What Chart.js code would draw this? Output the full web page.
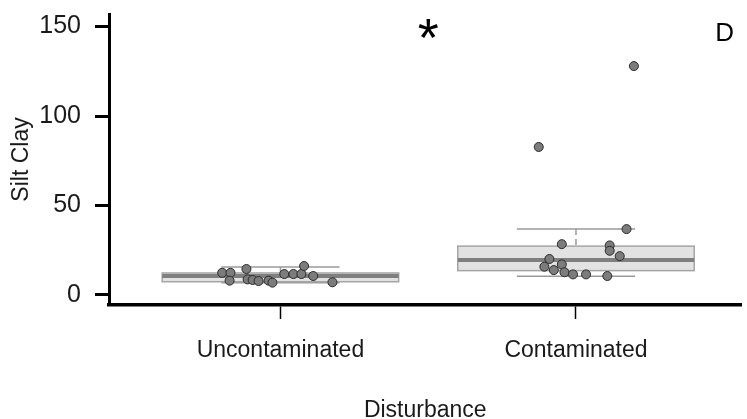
<!DOCTYPE html>
<html>
<head>
<meta charset="utf-8">
<script src="https://cdn.jsdelivr.net/npm/chart.js@4.4.1/dist/chart.umd.min.js"></script>
<style>
  html, body { margin: 0; padding: 0; background: #fff; }
  #wrap { width: 747px; height: 419px; }
</style>
</head>
<body>
<div id="wrap"><canvas id="c"></canvas></div>
<script>
// Silt/clay content by disturbance class
const categories = ['Uncontaminated', 'Contaminated'];

const siltClayUncontaminated = [12.4, 12.4, 8.0, 14.5, 8.7, 8.4, 7.8, 8.0, 6.9, 11.7, 11.7, 11.7, 16.2, 10.6, 7.1];
const jitterUncontaminated   = [-0.197, -0.169, -0.172, -0.115, -0.111, -0.094, -0.074, -0.040, -0.027, 0.013, 0.044, 0.071, 0.080, 0.111, 0.176];

const siltClayContaminated = [36.8, 28.4, 27.7, 24.7, 21.7, 20.1, 15.8, 13.9, 17.1, 12.7, 11.5, 11.5, 10.6, 127.9, 82.7];
const jitterContaminated   = [0.171, -0.048, 0.114, 0.114, 0.148, -0.090, -0.107, -0.075, -0.048, -0.039, -0.010, 0.034, 0.106, 0.196, -0.126];

// five-number summaries: lower whisker, Q1, median, Q3, upper whisker
const boxUncontaminated = [6.9, 7.4, 10.6, 12.3, 15.6];
const boxContaminated   = [10.5, 13.6, 19.5, 27.3, 36.8];

const yTicks = [0, 50, 100, 150];
const significanceMark = '*';
const panelLetter = 'D';

const FONT = '"Liberation Sans", Arial, sans-serif';

function toPoints(values, jitter, pos) {
  return values.map((v, i) => ({ x: pos + jitter[i], y: v }));
}

const boxes = [boxUncontaminated, boxContaminated];

const boxPlugin = {
  id: 'boxes',
  beforeDatasetsDraw(chart) {
    const { ctx, scales: { x, y } } = chart;
    ctx.save();
    boxes.forEach((b, i) => {
      const pos = i + 1;
      const [lo, q1, med, q3, hi] = b;
      const xl = x.getPixelForValue(pos - 0.4);
      const xr = x.getPixelForValue(pos + 0.4);
      const cl = x.getPixelForValue(pos - 0.2);
      const cr = x.getPixelForValue(pos + 0.2);
      const xc = x.getPixelForValue(pos);
      // whiskers
      ctx.strokeStyle = '#9a9a9a';
      ctx.lineWidth = 1.5;
      ctx.beginPath();
      ctx.moveTo(cl, y.getPixelForValue(hi)); ctx.lineTo(cr, y.getPixelForValue(hi));
      ctx.moveTo(cl, y.getPixelForValue(lo)); ctx.lineTo(cr, y.getPixelForValue(lo));
      ctx.stroke();
      ctx.setLineDash([6, 4]);
      ctx.beginPath();
      ctx.moveTo(xc, y.getPixelForValue(hi)); ctx.lineTo(xc, y.getPixelForValue(q3));
      ctx.moveTo(xc, y.getPixelForValue(q1)); ctx.lineTo(xc, y.getPixelForValue(lo));
      ctx.stroke();
      ctx.setLineDash([]);
      // box
      const yt = y.getPixelForValue(q3);
      const yb = y.getPixelForValue(q1);
      ctx.fillStyle = '#e2e2e2';
      ctx.fillRect(xl, yt, xr - xl, yb - yt);
      ctx.strokeStyle = '#a5a5a5';
      ctx.lineWidth = 1.5;
      ctx.strokeRect(xl, yt, xr - xl, yb - yt);
      // median
      ctx.strokeStyle = '#7f7f7f';
      ctx.lineWidth = 4;
      ctx.beginPath();
      ctx.moveTo(xl, y.getPixelForValue(med));
      ctx.lineTo(xr, y.getPixelForValue(med));
      ctx.stroke();
    });
    ctx.restore();
  },
  afterDraw(chart) {
    const { ctx, scales: { x, y } } = chart;
    ctx.save();
    ctx.fillStyle = '#000';
    ctx.textAlign = 'center';
    ctx.textBaseline = 'middle';
    ctx.font = '54px ' + FONT;
    ctx.fillText(significanceMark, x.getPixelForValue(1.5), y.getPixelForValue(142));
    ctx.font = '26px ' + FONT;
    ctx.fillText(panelLetter, x.getPixelForValue(2.503), y.getPixelForValue(146));
    ctx.restore();
  }
};

const pointStyle = {
  type: 'scatter',
  backgroundColor: '#7c7c7c',
  borderColor: '#2b2b2b',
  borderWidth: 1,
  pointRadius: 4.5,
  pointHoverRadius: 4.5
};

new Chart(document.getElementById('c'), {
  data: {
    datasets: [
      Object.assign({ label: categories[0], data: toPoints(siltClayUncontaminated, jitterUncontaminated, 1) }, pointStyle),
      Object.assign({ label: categories[1], data: toPoints(siltClayContaminated, jitterContaminated, 2) }, pointStyle)
    ]
  },
  options: {
    responsive: true,
    maintainAspectRatio: false,
    animation: false,
    devicePixelRatio: 1,
    layout: { padding: { top: 14, right: 0, bottom: 0, left: 0 } },
    plugins: { legend: { display: false }, tooltip: { enabled: false } },
    scales: {
      x: {
        type: 'linear',
        min: 0.42,
        max: 2.56,
        afterBuildTicks: (s) => { s.ticks = categories.map((_, i) => ({ value: i + 1 })); },
        afterFit: (s) => { s.height = 114; },
        ticks: {
          callback: (v) => categories[v - 1],
          font: { family: FONT, size: 23 },
          color: '#1a1a1a',
          padding: 18,
          maxRotation: 0
        },
        grid: { drawOnChartArea: false, tickLength: 14, tickWidth: 1.5, tickColor: '#000' },
        border: { display: true, color: '#000', width: 3.5 },
        title: { display: true, text: 'Disturbance', font: { family: FONT, size: 23, lineHeight: 1 }, color: '#1a1a1a', padding: { top: 0, bottom: -3 } }
      },
      y: {
        min: -5.6,
        max: 157,
        afterBuildTicks: (s) => { s.ticks = yTicks.map(v => ({ value: v })); },
        afterFit: (s) => { s.width = 109; s.paddingTop = 0; s.paddingBottom = 0; },
        ticks: {
          font: { family: FONT, size: 25 },
          color: '#1a1a1a',
          padding: 14
        },
        grid: { drawOnChartArea: false, tickLength: 14, tickWidth: 3, tickColor: '#000' },
        border: { display: true, color: '#000', width: 3 },
        title: { display: true, text: 'Silt Clay', font: { family: FONT, size: 23 }, color: '#1a1a1a', padding: { top: 8, bottom: 0 } }
      }
    }
  },
  plugins: [boxPlugin]
});
</script>
</body>
</html>
